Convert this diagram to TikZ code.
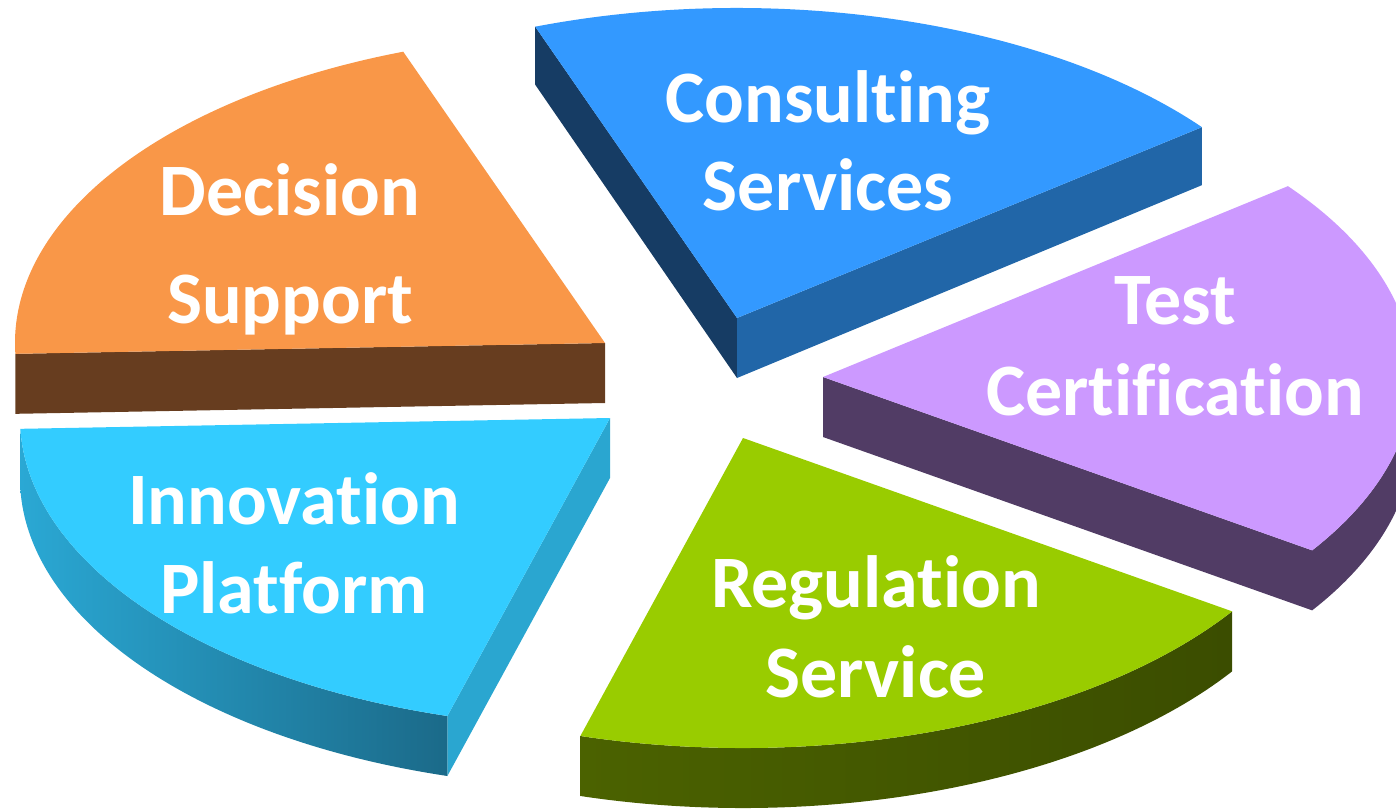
\documentclass[tikz,border=0pt]{standalone}
\usepackage{fontspec}
\setmainfont{Carlito}[Ligatures=NoCommon]
\definecolor{orTop}{HTML}{F99748}
\definecolor{orSide}{HTML}{673D1F}
\definecolor{blTop}{HTML}{3399FF}
\definecolor{blLeft}{HTML}{163C64}
\definecolor{blRight}{HTML}{2166A8}
\definecolor{puTop}{HTML}{CC99FF}
\definecolor{puSide}{HTML}{513C65}
\definecolor{grTop}{HTML}{99CC00}
\definecolor{grSideL}{HTML}{4B6200}
\definecolor{grSideR}{HTML}{3B4D00}
\definecolor{cyTop}{HTML}{33CCFF}
\definecolor{cySideL}{HTML}{2AA8D4}
\definecolor{cySideR}{HTML}{1B6A89}
\definecolor{cyEdge}{HTML}{2AA6D0}
\begin{document}
\begin{tikzpicture}[x=1pt,y=1pt,
  lbl/.style={text=white,align=center,inner sep=0pt,anchor=base,font=\bfseries},
  ell/.style={x radius=590pt,y radius=310pt}]
\useasboundingbox (0,-808) rectangle (1396,0);
\clip (0,-808) rectangle (1396,0);
% centres of the exploded slices
\coordinate (cB) at (737,-318);
\coordinate (cD) at (605,-343);
\coordinate (cP) at (823,-377);
\coordinate (cI) at (610,-418);
\coordinate (cG) at (743,-438);
% Consulting Services (blue)
\begin{scope}[shift={(cB)}]
  \fill[blLeft] (0,0) -- (110:590pt and 310pt) -- ++(0,-58) -- (0,-60) -- cycle;
  \fill[blRight] (0,0) -- (38:590pt and 310pt) -- ++(0,-58) -- (0,-60) -- cycle;
  \fill[blTop] (0,0) -- (38:590pt and 310pt) arc[start angle=38,end angle=110,ell] -- cycle;
\end{scope}
% Decision Support (orange)
\begin{scope}[shift={(cD)}]
  \fill[orSide] (0,0) -- (182:590pt and 310pt) -- ++(0,-60) -- (0,-60) -- cycle;
  \fill[orTop] (0,0) -- (110:590pt and 310pt) arc[start angle=110,end angle=182,ell] -- cycle;
\end{scope}
% Test Certification (purple)
\begin{scope}[shift={(cP)}]
  \fill[puSide] (0,0) -- (326:590pt and 310pt) arc[start angle=326,end angle=360,ell]
     -- ++(0,-60) arc[start angle=360,end angle=326,ell] -- (0,-60) -- cycle;
  \fill[puTop] (0,0) -- (326:590pt and 310pt) arc[start angle=326,end angle=398,ell] -- cycle;
\end{scope}
% Innovation Platform (cyan)
\begin{scope}[shift={(cI)}]
  \fill[cyEdge] (0,0) -- (254:590pt and 310pt) -- ++(0,-60) -- (0,-60) -- cycle;
  \shade[left color=cySideL,right color=cySideR] (182:590pt and 310pt) arc[start angle=182,end angle=254,ell]
     -- ++(0,-60) arc[start angle=254,end angle=182,ell] -- cycle;
  \fill[cyTop] (0,0) -- (182:590pt and 310pt) arc[start angle=182,end angle=254,ell] -- cycle;
\end{scope}
% Regulation Service (green)
\begin{scope}[shift={(cG)}]
  \shade[left color=grSideL,right color=grSideR] (254:590pt and 310pt) arc[start angle=254,end angle=326,ell]
     -- ++(0,-60) arc[start angle=326,end angle=254,ell] -- cycle;
  \fill[grTop] (0,0) -- (254:590pt and 310pt) arc[start angle=254,end angle=326,ell] -- cycle;
\end{scope}
% labels (anchor = baseline of the last line)
\node[lbl,font=\fontsize{74}{108}\selectfont\bfseries] (tD) at (290,-323) {Decision\\Support};
\node[lbl,font=\fontsize{74}{88}\selectfont\bfseries] (tB) at (828,-210) {Consulting\\Services};
\node[lbl,font=\fontsize{74}{91}\selectfont\bfseries] (tP) at (1175,-415) {Test\\Certification};
\node[lbl,font=\fontsize{74}{90}\selectfont\bfseries] (tG) at (876,-697) {Regulation\\Service};
\node[lbl,font=\fontsize{74}{89}\selectfont\bfseries] (tI) at (294,-613) {Innovation\\Platform};
\end{tikzpicture}
\end{document}
